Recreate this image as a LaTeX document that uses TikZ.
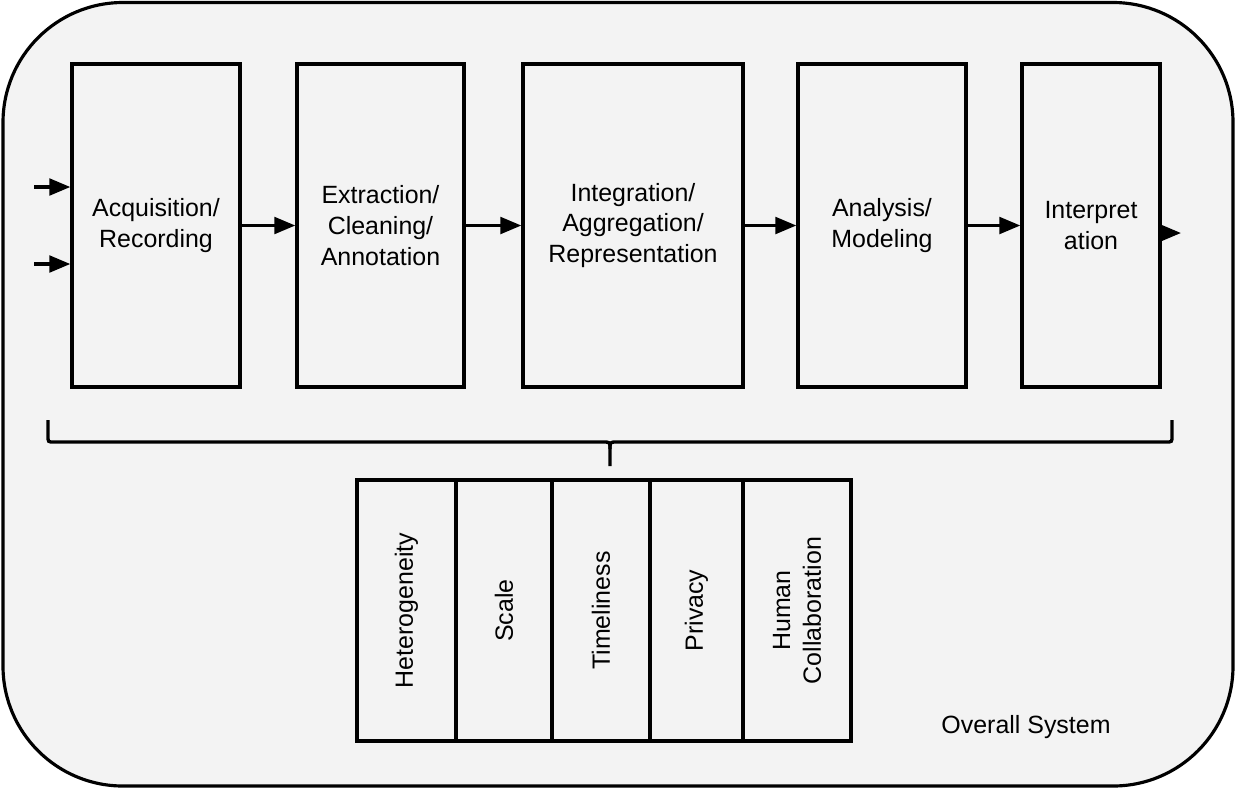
\documentclass[tikz,border=0pt]{standalone}
\usepackage{fontspec}
\setmainfont{Liberation Sans}
\usetikzlibrary{arrows.meta}
\definecolor{bgray}{HTML}{F3F3F3}
\tikzset{
  stagebox/.style={draw, line width=1.9pt, fill=bgray, align=center, inner sep=0pt, minimum height=6.46cm,
    font=\fontsize{14.2}{17.5}\selectfont},
  vbox/.style={draw, line width=1.9pt, fill=bgray, align=center, inner sep=0pt, rotate=90, minimum width=5.22cm,
    font=\fontsize{14.2}{17.5}\selectfont},
  flow/.style={line width=1.9pt, -{Triangle[length=12pt,width=9.5pt]}},
  bracestyle/.style={line width=1.9pt},
}
\begin{document}
\begin{tikzpicture}[x=0.02cm,y=-0.02cm]
\useasboundingbox (0,0) rectangle (1236,789);
\draw[line width=1.8pt, fill=bgray, rounded corners=2.4cm] (3,2.5) rectangle (1233,786);

\node[stagebox, minimum width=3.36cm] (b1) at (156,225.5) {Acquisition/\\Recording};
\node[stagebox, minimum width=3.34cm] (b2) at (380.5,225.5) {Extraction/\\Cleaning/\\Annotation};
\node[stagebox, minimum width=4.40cm] (b3) at (633,225.5) {Integration/\\Aggregation/\\Representation};
\node[stagebox, minimum width=3.36cm] (b4) at (882,225.5) {Analysis/\\Modeling};
\node[stagebox, minimum width=2.76cm] (b5) at (1091,225.5) {Interpret\\ation};

\draw[flow] (b1) -- (b2);
\draw[flow] (b2) -- (b3);
\draw[flow] (b3) -- (b4);
\draw[flow] (b4) -- (b5);

\coordinate (in1) at (34,187);
\coordinate (in2) at (34,264);
\draw[flow] (in1) -- (b1.west |- in1);
\draw[flow] (in2) -- (b1.west |- in2);
\coordinate (out) at (1181,233);
\draw[flow] (b5.east |- out) -- (out);

\draw[bracestyle] (48,420) -- (48,436) .. controls (48,442) .. (54,442) -- (603,442)
  .. controls (610,442) .. (610,449) -- (610,466);
\draw[bracestyle] (1172,420) -- (1172,436) .. controls (1172,442) .. (1166,442) -- (617,442)
  .. controls (610,442) .. (610,449);

\node[vbox, minimum height=1.98cm] (c1) at (406.5,610.5) {Heterogeneity};
\node[vbox, minimum height=1.92cm] (c2) at (504,610.5) {Scale};
\node[vbox, minimum height=1.96cm] (c3) at (601,610.5) {Timeliness};
\node[vbox, minimum height=1.86cm] (c4) at (696.5,610.5) {Privacy};
\node[vbox, minimum height=2.16cm] (c5) at (797,610.5) {Human\\Collaboration};

\node[font=\fontsize{14.2}{17}\selectfont] (sys) at (1026,727) {Overall System};
\end{tikzpicture}
\end{document}
